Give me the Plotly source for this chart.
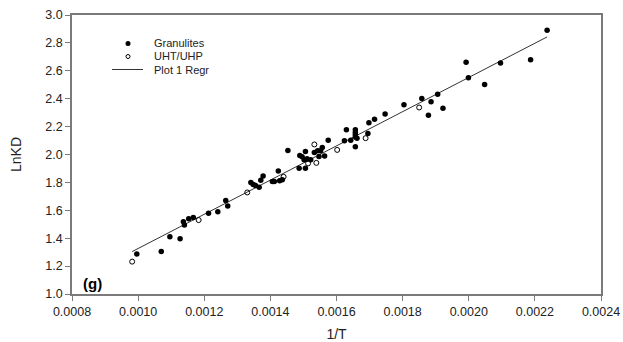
import numpy as np
import plotly.graph_objects as go

# Granulite samples: 1/T and ln KD
gran_x = [0.000996, 0.00107, 0.001096, 0.001127, 0.001137, 0.00114, 0.001153, 0.001167,
          0.001213, 0.001241, 0.001265, 0.001271, 0.001341, 0.001348, 0.001355, 0.001366,
          0.001371, 0.001378, 0.001406, 0.001412, 0.001424, 0.001428, 0.001436, 0.001453,
          0.001487, 0.001489, 0.001496, 0.001502, 0.001506, 0.001506, 0.001511, 0.001522,
          0.001533, 0.001543, 0.001547, 0.001552, 0.001557, 0.001564, 0.001575, 0.001624,
          0.00163, 0.001643, 0.001657, 0.001657, 0.001657, 0.001657, 0.001657, 0.001662,
          0.001695, 0.001698, 0.001715, 0.001747, 0.001804, 0.001858, 0.001878, 0.001886,
          0.001906, 0.001922, 0.001992, 0.001999, 0.002048, 0.002096, 0.002187, 0.002237]
gran_y = [1.286, 1.305, 1.41, 1.396, 1.518, 1.494, 1.539, 1.549,
          1.578, 1.590, 1.670, 1.630, 1.800, 1.785, 1.778, 1.766,
          1.816, 1.845, 1.807, 1.807, 1.881, 1.812, 1.819, 2.029,
          1.902, 1.993, 1.983, 1.962, 1.902, 2.021, 1.969, 1.962,
          2.014, 2.026, 1.986, 2.026, 2.050, 1.990, 2.103, 2.098,
          2.177, 2.103, 2.177, 2.158, 2.141, 2.126, 2.055, 2.117,
          2.150, 2.227, 2.253, 2.291, 2.356, 2.401, 2.282, 2.379,
          2.432, 2.332, 2.661, 2.551, 2.501, 2.656, 2.680, 2.890]

# UHT/UHP samples
uht_x = [0.000982, 0.001183, 0.00133, 0.00144, 0.001514, 0.001533, 0.001539, 0.001602,
         0.001688, 0.00185]
uht_y = [1.232, 1.530, 1.728, 1.840, 1.936, 2.072, 1.940, 2.033, 2.117, 2.337]

x_ticks = [0.0008, 0.0010, 0.0012, 0.0014, 0.0016, 0.0018, 0.0020, 0.0022, 0.0024]
y_ticks = [1.0, 1.2, 1.4, 1.6, 1.8, 2.0, 2.2, 2.4, 2.6, 2.8, 3.0]
legend_labels = ["Granulites", "UHT/UHP", "Plot 1 Regr"]

# Linear regression through all samples
all_x = np.array(gran_x + uht_x)
all_y = np.array(gran_y + uht_y)
slope, intercept = np.polyfit(all_x, all_y, 1)
reg_x = np.array([all_x.min(), all_x.max()])
reg_y = slope * reg_x + intercept

FONT = "Liberation Sans, Arial, sans-serif"
FRAME = "#7a7a7a"
W, H = 623, 342
ML, MR, MT, MB = 72, 22, 15, 48
PW, PH = W - ML - MR, H - MT - MB


def px_to_paper(xpx, ypx):
    return (xpx - ML) / PW, 1 - (ypx - MT) / PH


fig = go.Figure()
fig.add_trace(go.Scatter(x=reg_x, y=reg_y, mode="lines", name="Plot 1 Regr",
                         line=dict(color="#333333", width=1), showlegend=False))
fig.add_trace(go.Scatter(x=gran_x, y=gran_y, mode="markers", name="Granulites",
                         marker=dict(symbol="circle", size=5.5, color="black",
                                     line=dict(width=0)), showlegend=False))
fig.add_trace(go.Scatter(x=uht_x, y=uht_y, mode="markers", name="UHT/UHP",
                         marker=dict(symbol="circle-open", size=5, color="black",
                                     line=dict(width=1)), showlegend=False))

axis_common = dict(
    showgrid=False, zeroline=False, showline=True, mirror=True, automargin=False,
    linecolor=FRAME, linewidth=1.5, ticks="outside", ticklen=5,
    tickcolor=FRAME, tickwidth=1.2,
    tickfont=dict(family=FONT, size=12.5, color="#222222"),
)

fig.update_layout(
    width=W, height=H,
    margin=dict(l=ML, r=MR, t=MT, b=MB),
    paper_bgcolor="white", plot_bgcolor="white",
    font=dict(family=FONT, color="#222222"),
    xaxis=dict(range=[0.0008, 0.0024], tickvals=x_ticks,
               ticktext=[f"{v:.4f}" for v in x_ticks],
               title=dict(text="1/T", font=dict(family=FONT, size=14), standoff=14),
               **axis_common),
    yaxis=dict(range=[1.0, 3.0], tickvals=y_ticks,
               ticktext=[f"{v:.1f}" for v in y_ticks],
               title=dict(text="LnKD", font=dict(family=FONT, size=14), standoff=20),
               **axis_common),
)

# Legend drawn in paper coordinates: one tight text block (the base size sets
# the line pitch, the spans carry the visible size), glyphs beside each line
legend_text = "<br>".join(f'<span style="font-size:11px">{t}</span>' for t in legend_labels)
tx, ty = px_to_paper(153, 56.5)
fig.add_annotation(xref="paper", yref="paper", x=tx, y=ty,
                   text=legend_text, showarrow=False, align="left",
                   xanchor="left", yanchor="middle", borderpad=0,
                   font=dict(family=FONT, size=10.3, color="#222222"))

cx, cy = px_to_paper(128, 43.5)
fig.add_shape(type="circle", xref="paper", yref="paper",
              x0=cx - 2.5 / PW, x1=cx + 2.5 / PW, y0=cy - 2.5 / PH, y1=cy + 2.5 / PH,
              fillcolor="black", line=dict(width=0))
cx, cy = px_to_paper(128, 56.5)
fig.add_shape(type="circle", xref="paper", yref="paper",
              x0=cx - 2 / PW, x1=cx + 2 / PW, y0=cy - 2 / PH, y1=cy + 2 / PH,
              fillcolor="white", line=dict(width=1, color="black"))
lx0, ly = px_to_paper(112, 69.5)
lx1, _ = px_to_paper(143, 69.5)
fig.add_shape(type="line", xref="paper", yref="paper", x0=lx0, x1=lx1, y0=ly, y1=ly,
              line=dict(width=1, color="#333333"))

# Panel label
gx, gy = px_to_paper(81, 283)
fig.add_annotation(xref="paper", yref="paper", x=gx, y=gy,
                   text="<b>(g)</b>", showarrow=False, xanchor="left", yanchor="middle",
                   font=dict(family=FONT, size=15, color="black"))

fig.write_html("out.html")
